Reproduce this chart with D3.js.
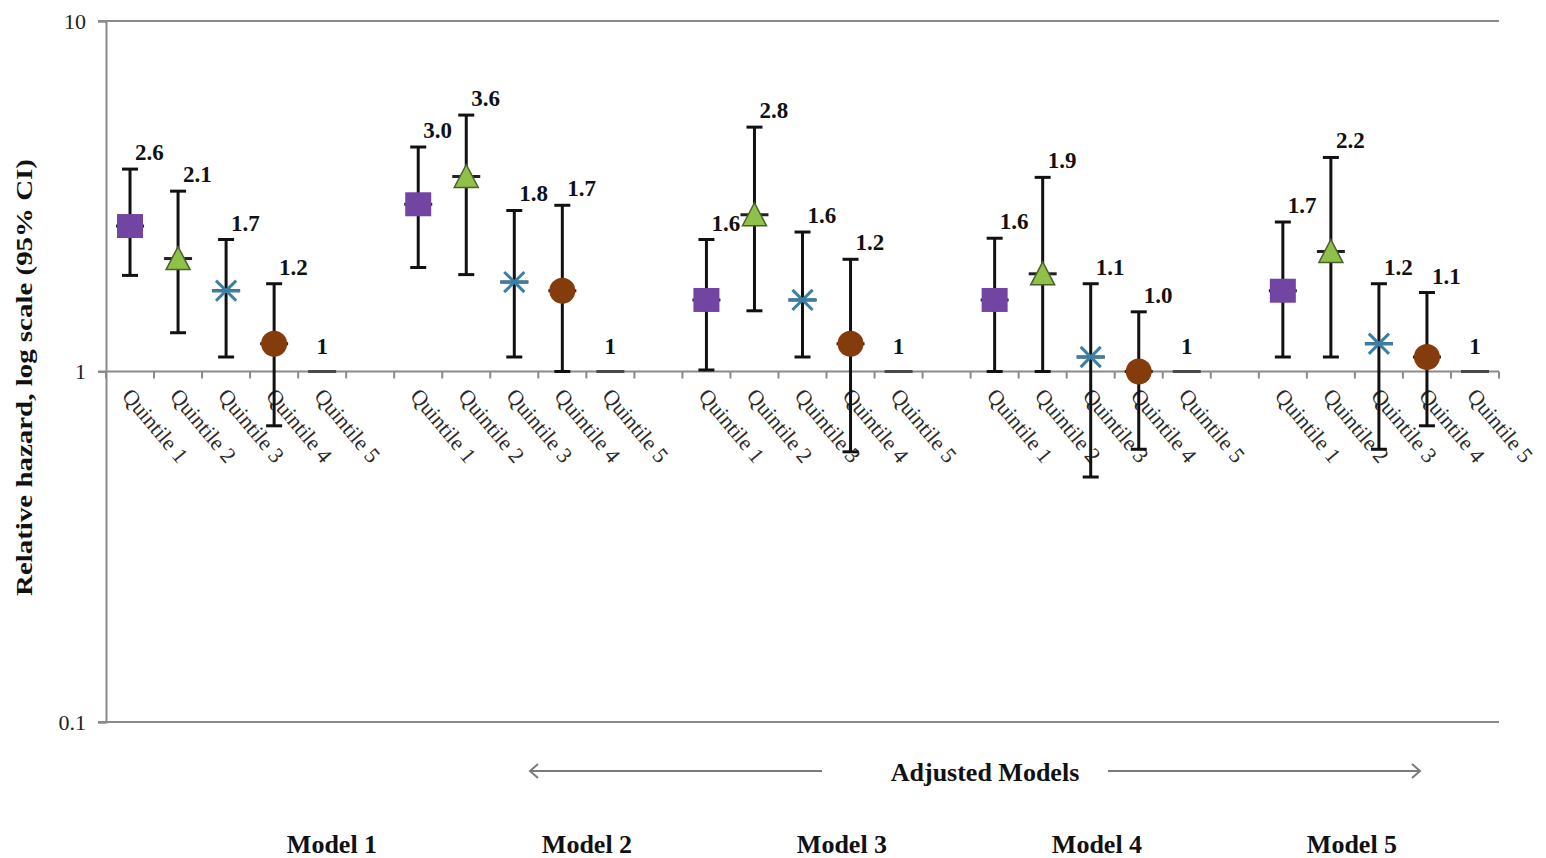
<!DOCTYPE html>
<html>
<head>
<meta charset="utf-8">
<script src="https://cdn.jsdelivr.net/npm/d3@7/dist/d3.min.js"></script>
<style>
  html, body { margin: 0; padding: 0; background: #ffffff; }
  svg { display: block; }
  text { font-family: "Liberation Serif", "DejaVu Serif", serif; }
</style>
</head>
<body>
<svg id="chart" width="1546" height="858"></svg>
<script>
// ---- data -------------------------------------------------------------
const models = ["Model 1", "Model 2", "Model 3", "Model 4", "Model 5"];
const quintiles = ["Quintile 1", "Quintile 2", "Quintile 3", "Quintile 4", "Quintile 5"];

// relative hazard estimates, one array per quintile (Model 1..5)
const hrQ1 = [2.6, 3.0, 1.6, 1.6, 1.7];
const hrQ2 = [2.1, 3.6, 2.8, 1.9, 2.2];
const hrQ3 = [1.7, 1.8, 1.6, 1.1, 1.2];
const hrQ4 = [1.2, 1.7, 1.2, 1.0, 1.1];
const hrQ5 = [1, 1, 1, 1, 1];

// lower 95% confidence limits
const loQ1 = [1.88, 1.98, 1.01, 1.0, 1.10];
const loQ2 = [1.29, 1.89, 1.49, 1.0, 1.10];
const loQ3 = [1.10, 1.10, 1.10, 0.50, 0.60];
const loQ4 = [0.70, 1.0, 0.59, 0.60, 0.70];
const loQ5 = [1, 1, 1, 1, 1];

// upper 95% confidence limits
const hiQ1 = [3.78, 4.37, 2.38, 2.40, 2.67];
const hiQ2 = [3.27, 5.39, 4.98, 3.58, 4.08];
const hiQ3 = [2.38, 2.88, 2.50, 1.78, 1.78];
const hiQ4 = [1.78, 2.98, 2.09, 1.48, 1.68];
const hiQ5 = [1, 1, 1, 1, 1];

// value label text (Quintile 5 is the reference)
const labQ1 = ["2.6", "3.0", "1.6", "1.6", "1.7"];
const labQ2 = ["2.1", "3.6", "2.8", "1.9", "2.2"];
const labQ3 = ["1.7", "1.8", "1.6", "1.1", "1.2"];
const labQ4 = ["1.2", "1.7", "1.2", "1.0", "1.1"];
const labQ5 = ["1", "1", "1", "1", "1"];

const yTicks = [0.1, 1, 10];
const yTickLabels = ["0.1", "1", "10"];

// ---- assemble rows ----------------------------------------------------
const hr = [hrQ1, hrQ2, hrQ3, hrQ4, hrQ5];
const lo = [loQ1, loQ2, loQ3, loQ4, loQ5];
const hi = [hiQ1, hiQ2, hiQ3, hiQ4, hiQ5];
const lab = [labQ1, labQ2, labQ3, labQ4, labQ5];
const markerKind = ["square", "triangle", "star", "circle", "dash"];

const slots = [];
const rows = [];
models.forEach((m, mi) => {
  quintiles.forEach((q, qi) => {
    const key = m + "|" + q;
    slots.push(key);
    rows.push({ key, model: m, quintile: q, qi,
      hr: hr[qi][mi], lo: lo[qi][mi], hi: hi[qi][mi], label: lab[qi][mi],
      kind: markerKind[qi] });
  });
  if (mi < models.length - 1) slots.push("gap|" + m);
});

// ---- layout -----------------------------------------------------------
const svg = d3.select("#chart");
const plot = { left: 106, right: 1499, top: 21, bottom: 722 };

const x = d3.scaleBand().domain(slots).range([plot.left, plot.right]).padding(0);
const y = d3.scaleLog().domain([0.1, 10]).range([plot.bottom, plot.top]);
const cx = d => x(d.key) + x.bandwidth() / 2;

const axisGrey = "#8a8a8a";

// horizontal gridlines at each decade
svg.append("g").selectAll("line").data(yTicks).join("line")
  .attr("x1", plot.left - 8).attr("x2", plot.right)
  .attr("y1", d => y(d)).attr("y2", d => y(d))
  .attr("stroke", axisGrey).attr("stroke-width", 2);

// y axis
const yAxis = d3.axisLeft(y).tickValues(yTicks)
  .tickFormat((d, i) => yTickLabels[i]).tickSize(8).tickPadding(12);
const gy = svg.append("g").attr("transform", `translate(${plot.left},0)`).call(yAxis);
gy.attr("font-family", null).attr("font-size", null);
gy.select(".domain").attr("stroke", axisGrey).attr("stroke-width", 2);
gy.selectAll(".tick line").attr("stroke", axisGrey).attr("stroke-width", 2);
gy.selectAll(".tick text").style("font-family", "Liberation Serif, serif")
  .style("font-size", "22px").attr("fill", "#222");

// category axis crossing at 1: tick marks at band boundaries
const y1 = y(1);
const bounds = slots.map(s => x(s)).concat([plot.right]);
svg.append("g").selectAll("line").data(bounds).join("line")
  .attr("x1", d => d).attr("x2", d => d)
  .attr("y1", y1).attr("y2", y1 + 7)
  .attr("stroke", axisGrey).attr("stroke-width", 2);

// category labels
svg.append("g").selectAll("text").data(rows).join("text")
  .attr("transform", d => `translate(${cx(d) - 9},${y1 + 25}) rotate(50)`)
  .attr("font-size", 22).attr("fill", "#2a2a2a")
  .text(d => d.quintile);

// error bars
const eb = svg.append("g").attr("stroke", "#111").attr("stroke-width", 3);
const ci = rows.filter(d => d.kind !== "dash");
eb.selectAll("line.v").data(ci).join("line").attr("class", "v")
  .attr("x1", cx).attr("x2", cx).attr("y1", d => y(d.hi)).attr("y2", d => y(d.lo));
eb.selectAll("line.t").data(ci).join("line").attr("class", "t")
  .attr("x1", d => cx(d) - 8).attr("x2", d => cx(d) + 8)
  .attr("y1", d => y(d.hi)).attr("y2", d => y(d.hi));
eb.selectAll("line.b").data(ci).join("line").attr("class", "b")
  .attr("x1", d => cx(d) - 8).attr("x2", d => cx(d) + 8)
  .attr("y1", d => y(d.lo)).attr("y2", d => y(d.lo));

// short dash through every estimate
svg.append("g").selectAll("line").data(rows).join("line")
  .attr("x1", d => cx(d) - 14).attr("x2", d => cx(d) + 14)
  .attr("y1", d => y(d.hr)).attr("y2", d => y(d.hr))
  .attr("stroke", d => d.kind === "dash" ? "#4a4a4a" : "#222")
  .attr("stroke-width", 3);

// markers
const mk = svg.append("g");
rows.forEach(d => {
  const px = cx(d), py = y(d.hr);
  if (d.kind === "square") {
    mk.append("rect").attr("x", px - 13).attr("y", py - 12)
      .attr("width", 26).attr("height", 24).attr("fill", "#7345a3");
  } else if (d.kind === "triangle") {
    mk.append("path")
      .attr("d", `M${px},${py - 12}L${px + 12},${py + 11}L${px - 12},${py + 11}Z`)
      .attr("fill", "#8fc04a").attr("stroke", "#4d5f2a").attr("stroke-width", 1.5);
  } else if (d.kind === "star") {
    const r = 14, g = mk.append("g").attr("stroke", "#3b7fa3").attr("stroke-width", 3);
    g.append("line").attr("x1", px - r).attr("x2", px + r).attr("y1", py).attr("y2", py);
    g.append("line").attr("x1", px - r * 0.72).attr("x2", px + r * 0.72)
      .attr("y1", py - r * 0.72).attr("y2", py + r * 0.72);
    g.append("line").attr("x1", px - r * 0.72).attr("x2", px + r * 0.72)
      .attr("y1", py + r * 0.72).attr("y2", py - r * 0.72);
  } else if (d.kind === "circle") {
    mk.append("circle").attr("cx", px).attr("cy", py).attr("r", 13).attr("fill", "#843c0c");
  }
});

// value labels
svg.append("g").selectAll("text").data(rows).join("text")
  .attr("x", d => d.kind === "dash" ? cx(d) : cx(d) + 5)
  .attr("y", d => d.kind === "dash" ? y(d.hr) - 18 : y(d.hi) - 9)
  .attr("text-anchor", d => d.kind === "dash" ? "middle" : "start")
  .attr("font-size", 23).attr("font-weight", "bold").attr("fill", "#111")
  .text(d => d.label);

// y axis title
svg.append("text")
  .attr("transform", `translate(32,${(plot.top + plot.bottom) / 2 + 6}) rotate(-90)`)
  .attr("text-anchor", "middle").attr("font-size", 23).attr("font-weight", "bold")
  .attr("fill", "#111")
  .attr("textLength", 437).attr("lengthAdjust", "spacingAndGlyphs")
  .text("Relative hazard, log scale (95% CI)");

// "Adjusted Models" span with arrows
const ann = svg.append("g").attr("stroke", "#7a7a7a").attr("stroke-width", 2).attr("fill", "none");
const ay = 771;
ann.append("line").attr("x1", 530).attr("x2", 822).attr("y1", ay).attr("y2", ay);
ann.append("polyline").attr("points", `${538},${ay - 7} ${530},${ay} ${538},${ay + 7}`);
ann.append("line").attr("x1", 1108).attr("x2", 1420).attr("y1", ay).attr("y2", ay);
ann.append("polyline").attr("points", `${1412},${ay - 7} ${1420},${ay} ${1412},${ay + 7}`);
svg.append("text").attr("x", 985).attr("y", 781).attr("text-anchor", "middle")
  .attr("font-size", 26).attr("font-weight", "bold").attr("fill", "#111")
  .text("Adjusted Models");

// model captions
const mx = d3.scalePoint().domain(models).range([332, 1352]);
svg.append("g").selectAll("text").data(models).join("text")
  .attr("x", d => mx(d)).attr("y", 853).attr("text-anchor", "middle")
  .attr("font-size", 26).attr("font-weight", "bold").attr("fill", "#111")
  .text(d => d);
</script>
</body>
</html>
